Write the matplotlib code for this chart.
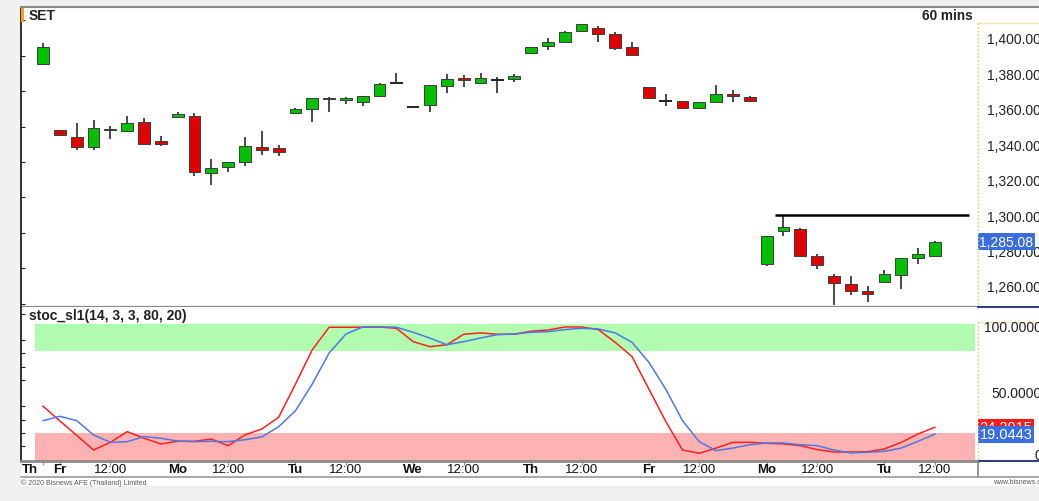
import numpy as np
import matplotlib
matplotlib.use("Agg")
import matplotlib.pyplot as plt
import matplotlib.transforms as mtransforms
from matplotlib.lines import Line2D
from matplotlib.patches import Rectangle
from matplotlib.ticker import FuncFormatter, MultipleLocator

plt.rcParams['font.family'] = ['Liberation Sans', 'DejaVu Sans']

# === SET 60 mins bars ===
opens = [1385.3, 1348.1, 1344.3, 1338.3, 1348.8, 1347.7, 1352.6, 1341.7, 1355.6, 1356.1,
         1323.8, 1327.0, 1329.8, 1338.6, 1337.7, 1357.5, 1359.9, 1366.0, 1365.0, 1363.7,
         1367.4, 1374.4, 1360.9, 1362.2, 1372.7, 1377.4, 1374.6, 1376.5, 1376.7, 1391.4,
         1395.7, 1397.6, 1404.0, 1405.8, 1402.4, 1395.1, 1372.5, 1364.6, 1364.3, 1360.6,
         1364.0, 1368.2, 1366.9, 1272.4, 1290.9, 1292.1, 1276.7, 1265.4, 1261.1, 1257.0,
         1262.4, 1266.2, 1275.6, 1277.1]
highs = [1397.2, 1348.1, 1351.8, 1353.7, 1350.5, 1356.1, 1354.6, 1344.8, 1358.0, 1357.5,
         1331.7, 1330.0, 1343.9, 1347.5, 1339.6, 1360.5, 1366.1, 1366.9, 1366.5, 1367.4,
         1374.5, 1380.2, 1360.9, 1373.5, 1379.8, 1379.1, 1380.2, 1377.8, 1379.7, 1395.1,
         1400.0, 1404.0, 1408.0, 1406.9, 1403.2, 1397.9, 1372.5, 1368.4, 1364.3, 1363.7,
         1373.5, 1370.6, 1367.5, 1288.4, 1299.3, 1292.5, 1278.0, 1266.6, 1265.8, 1260.2,
         1269.2, 1276.0, 1281.3, 1285.1]
lows = [1385.3, 1345.0, 1336.9, 1337.0, 1343.0, 1347.0, 1340.0, 1339.2, 1355.6, 1321.9,
        1317.2, 1324.2, 1327.9, 1334.1, 1333.5, 1357.5, 1352.4, 1358.0, 1363.0, 1361.8,
        1367.0, 1374.4, 1360.9, 1358.4, 1368.8, 1372.2, 1374.6, 1368.9, 1375.3, 1391.4,
        1393.2, 1397.6, 1404.0, 1397.9, 1393.2, 1390.6, 1366.0, 1361.4, 1360.3, 1360.0,
        1364.0, 1364.0, 1364.6, 1271.4, 1288.4, 1277.1, 1269.6, 1249.4, 1254.9, 1250.8,
        1262.4, 1258.3, 1272.4, 1277.1]
closes = [1394.9, 1345.4, 1338.3, 1349.0, 1348.0, 1352.2, 1340.1, 1340.0, 1357.1, 1324.3,
          1326.4, 1329.8, 1338.8, 1336.9, 1335.5, 1359.9, 1366.1, 1365.3, 1366.0, 1367.4,
          1374.0, 1374.4, 1360.9, 1373.5, 1376.8, 1376.5, 1377.2, 1376.5, 1378.4, 1395.1,
          1397.9, 1403.6, 1407.9, 1402.3, 1394.4, 1390.6, 1366.0, 1364.6, 1360.3, 1363.7,
          1368.4, 1367.4, 1364.6, 1288.4, 1293.3, 1277.1, 1272.0, 1261.7, 1257.3, 1255.5,
          1266.7, 1275.6, 1278.0, 1285.08]

# stochastic %K (red) and %D (blue)
stoch_k = [40.1, 29.0, 18.1, 7.0, 12.8, 20.9, 15.9, 11.6, 13.6, 13.6,
           15.3, 10.3, 18.4, 22.9, 31.7, 56.8, 82.8, 99.8, 99.8, 99.8,
           100.0, 99.0, 88.9, 85.1, 86.6, 94.5, 95.5, 94.5, 94.5, 96.8,
           97.7, 100.0, 100.0, 98.0, 88.4, 77.6, 53.1, 28.7, 7.0, 4.5,
           8.5, 12.8, 12.8, 12.1, 11.6, 10.3, 7.3, 5.5, 5.5, 5.7,
           7.8, 12.8, 19.1, 24.2015]
stoch_d = [29.2, 32.5, 29.2, 18.4, 12.8, 13.3, 17.1, 15.9, 13.8, 13.3,
           13.6, 13.3, 14.8, 16.9, 24.6, 36.7, 56.9, 80.3, 94.7, 100.0,
           100.0, 99.8, 96.0, 91.5, 86.6, 88.9, 91.7, 94.2, 94.7, 96.0,
           96.5, 98.0, 99.0, 98.5, 95.5, 88.4, 73.3, 53.1, 29.2, 13.3,
           6.5, 8.5, 11.0, 12.3, 12.3, 11.0, 10.3, 7.0, 4.8, 5.3,
           6.0, 8.5, 13.6, 19.0443]

# x axis labels (bar index -> text)
label_pos = [0, 1, 4, 8, 11, 15, 18, 22, 25, 29, 32, 36, 39, 43, 46, 50, 53]
label_txt = ["Th", "Fr", "12:00", "Mo", "12:00", "Tu", "12:00", "We", "12:00",
             "Th", "12:00", "Fr", "12:00", "Mo", "12:00", "Tu", "12:00"]

price_ticks = [1260, 1280, 1300, 1320, 1340, 1360, 1380, 1400]
stoch_ticks = [0, 50, 100]
stoch_tick_txt = ["0", "50.0000", "100.0000"]

resistance = 1300
res_from, res_to = 43.5, 55.0

W, H = 1039, 502
fig = plt.figure(figsize=(W / 100, H / 100), dpi=100, facecolor='#f0f0f0')


def box(x0, y0, x1, y1):
    return [x0 / W, 1 - y1 / H, (x1 - x0) / W, (y1 - y0) / H]


def fline(x0, y0, x1, y1, **kw):
    fig.add_artist(Line2D([x0 / W, x1 / W], [1 - y0 / H, 1 - y1 / H],
                          transform=fig.transFigure, **kw))


# white chart background
fig.add_artist(Rectangle((21 / W, 1 - 487 / H), (W - 21) / W, (487 - 8) / H,
                         transform=fig.transFigure, fc='white', ec='none', zorder=0))

ax = fig.add_axes(box(21, 8, 978, 308))
ax2 = fig.add_axes(box(21, 308, 978, 462), sharex=ax)

x = np.arange(len(opens))

# === candles ===
for i in x:
    o, h, l, c = opens[i], highs[i], lows[i], closes[i]
    if h > l:
        ax.vlines(i, l, h, color='#3a3a3a', lw=1.3, zorder=2)
    if c > o:
        ax.bar(i, c - o, bottom=o, width=0.7, color='#00c000', edgecolor='#3c3c3c', linewidth=0.7, zorder=3)
    elif c < o:
        ax.bar(i, o - c, bottom=c, width=0.7, color='#e00000', edgecolor='#3c3c3c', linewidth=0.7, zorder=3)
    else:
        ax.hlines(o, i - 0.37, i + 0.37, color='#222222', lw=1.4, zorder=3)

ax.hlines(resistance, res_from, res_to, color='black', lw=1.8, zorder=4)

ax.set_xlim(-1.31, 55.56)
ax.set_ylim(1248.1, 1417.5)
ax.set_facecolor('white')
for s in ['top', 'right']:
    ax.spines[s].set_visible(False)
ax.spines['left'].set_color('#111111')
ax.spines['left'].set_linewidth(1.2)
ax.spines['bottom'].set_color('#8a8a8a')
ax.spines['bottom'].set_linewidth(1.6)
ax.tick_params(axis='x', bottom=False, labelbottom=False)
ax.yaxis.set_ticks_position('right')
ax.set_yticks(price_ticks)
ax.yaxis.set_major_formatter(FuncFormatter(lambda v, p: f"{v:,.2f}"))
ax.tick_params(axis='y', which='major', length=0, pad=6.3, labelsize=10, labelcolor='#222222')
ax.yaxis.set_minor_locator(MultipleLocator(10))
ax.tick_params(axis='y', which='minor', left=True, right=False, length=3,
               direction='in', color='#222222', width=0.8)

# === stochastic ===
ax2.fill_between([-0.5, 55.4], 82, 102.6, color='#b2fcb0', lw=0, zorder=1)
ax2.fill_between([-0.5, 55.4], -1.3, 19.9, color='#ffb2b2', lw=0, zorder=1)
ax2.plot(x, stoch_k, color='#ff2020', lw=1.1, zorder=3)
ax2.plot(x, stoch_d, color='#4d78e6', lw=1.1, zorder=4)
ax2.set_ylim(-1.3, 115.1)
ax2.set_facecolor('white')
for s in ['top', 'right']:
    ax2.spines[s].set_visible(False)
ax2.spines['left'].set_color('#111111')
ax2.spines['left'].set_linewidth(1.2)
ax2.spines['bottom'].set_color('#8a8a8a')
ax2.spines['bottom'].set_linewidth(2.0)
ax2.set_yticks(stoch_ticks)
ax2.tick_params(axis='y', which='major', left=False, right=False, labelleft=False)
ax2.yaxis.set_minor_locator(MultipleLocator(10))
ax2.tick_params(axis='y', which='minor', left=True, right=False, length=3,
                direction='in', color='#222222', width=0.8)
ax2.set_xticks(label_pos)
ax2.tick_params(axis='x', length=3, color='#8a8a8a', labelbottom=False)

ytr = mtransforms.blended_transform_factory(fig.transFigure, ax2.transData)
for v, t in zip(stoch_ticks, stoch_tick_txt):
    fig.text(1042 / W, v, t, transform=ytr, ha='right',
             va='baseline' if v == 0 else 'center', fontsize=10, color='#222222')

# x labels
xtr = mtransforms.blended_transform_factory(ax2.transData, fig.transFigure)
for p, t in zip(label_pos, label_txt):
    wt = 'normal' if ':' in t else 'bold'
    if p == 0:
        fig.text(22 / W, 1 - 470 / H, t, ha='left', va='center', fontsize=9.5,
                 fontweight=wt, color='#111111')
    else:
        fig.text(p, 1 - 470 / H, t, transform=xtr, ha='center', va='center',
                 fontsize=9.5, fontweight=wt, color='#111111')

# last value tags
ptr = mtransforms.blended_transform_factory(ax.transAxes, ax.transData)
ax.text(1.0015, closes[-1], f"{closes[-1]:,.2f}", transform=ptr, ha='left', va='center',
        color='white', fontsize=10, clip_on=False, zorder=10,
        bbox=dict(boxstyle='square,pad=0.1', fc='#3a6ee0', ec='none'))
str2 = mtransforms.blended_transform_factory(ax2.transAxes, ax2.transData)
ax2.text(1.0015, stoch_k[-1], f"{stoch_k[-1]:.4f}", transform=str2, ha='left', va='center',
         color='white', fontsize=10.5, clip_on=False, zorder=10,
         bbox=dict(boxstyle='square,pad=0.1', fc='#ff1a1a', ec='none'))
ax2.text(1.0015, stoch_d[-1], f"{stoch_d[-1]:.4f}", transform=str2, ha='left', va='center',
         color='white', fontsize=10.5, clip_on=False, zorder=11,
         bbox=dict(boxstyle='square,pad=0.1', fc='#3a6ee0', ec='none'))

# frame lines
fline(21, 8, W, 8, color='#8a8a8a', lw=1.5)
fline(978, 24, W, 24, color='#fbe2b0', lw=1)
fline(978, 24, 978, 308, color='#e8c070', lw=1, ls=':')
fline(978, 323, W, 323, color='#fbe2b0', lw=1)
fline(978, 323, 978, 462, color='#e8c070', lw=1, ls=':')
fline(978, 308, W, 308, color='#1c2a78', lw=1.3)
fline(978, 462, W, 462, color='#1c2a78', lw=1.3)
fline(978, 462, 978, 478, color='#8a8a8a', lw=1.3)
fline(21, 478, W, 478, color='#9a9a9a', lw=1.2)
fig.add_artist(Rectangle((21 / W, 1 - 23 / H), 3 / W, 15 / H, transform=fig.transFigure,
                         fc='#f5a11c', ec='none'))

fig.text(29 / W, 1 - 16 / H, "SET", fontsize=10, fontweight='bold', va='center', color='#222222')
fig.text(973 / W, 1 - 16 / H, "60 mins", fontsize=9.8, fontweight='bold', va='center', ha='right',
         color='#222222')
fig.text(29 / W, 1 - 316 / H, "stoc_sl1(14, 3, 3, 80, 20)", fontsize=10, fontweight='bold',
         va='center', color='#222222')
fig.text(21 / W, 1 - 483 / H, "\u00a9 2020 Bisnews AFE (Thailand) Limited", fontsize=5,
         va='center', color='#555555')
fig.text(993 / W, 1 - 483 / H, "www.bisnews.com", fontsize=5, va='center', color='#555555')

fig.savefig("out.png", dpi=100, facecolor=fig.get_facecolor())
